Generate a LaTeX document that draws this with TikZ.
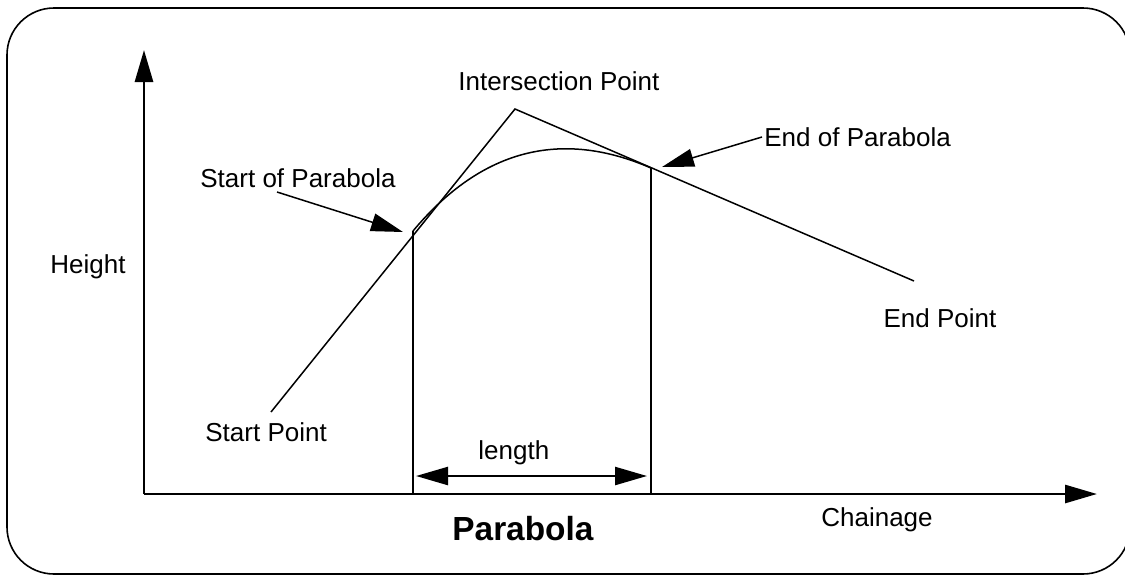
\documentclass[tikz,border=0pt]{standalone}
\usepackage{fontspec}
\setmainfont{Liberation Sans}
\usetikzlibrary{arrows.meta,calc}
\begin{document}
\begin{tikzpicture}[x=0.5pt,y=-0.5pt,
  lbl/.style={inner sep=0pt,font=\fontsize{13pt}{15pt}\selectfont},
  title/.style={inner sep=0pt,font=\fontsize{16.7pt}{19pt}\selectfont\bfseries},
  thin line/.style={line width=0.75pt},
  axis/.style={line width=1.4pt,-{Triangle[length=16pt,width=9pt]}},
  ptr/.style={line width=0.75pt,-{Triangle[length=16pt,width=9pt]}},
  dim/.style={line width=1.2pt,{Triangle[length=16pt,width=9pt]}-{Triangle[length=16pt,width=9pt]}},
  vline/.style={line width=1.25pt}]
\useasboundingbox (0,0) rectangle (1125,574);
\clip (0,0) rectangle (1125,574);
% frame
\draw[line width=0.8pt,rounded corners=23.5pt] (7,8) rectangle (1130,574);
% key points
\coordinate (O) at (144,494);
\coordinate (Ytip) at (144,50);
\coordinate (Xtip) at (1097,494);
\coordinate (S) at (413,231);
\coordinate (E) at (651,168);
\coordinate (I) at (515,109);
\coordinate (SP) at (271,412);
\coordinate (EP) at (914,281);
\coordinate (SB) at (413,494);
\coordinate (EB) at (651,494);
\coordinate (L1) at (416,476);
\coordinate (L2) at (647,476);
\coordinate (Stail) at (277,192);
\coordinate (Stip) at (403,232);
\coordinate (Etail) at (762,137);
\coordinate (Etip) at (662,167);
% axes
\draw[axis] (O) -- (Ytip);
\draw[axis] (O) -- (Xtip);
% tangents
\draw[thin line] (SP) -- (I) -- (EP);
% parabola
\draw[thin line] (S) .. controls ($(S)!2/3!(I)$) and ($(E)!2/3!(I)$) .. (E);
% verticals
\draw[vline] (SB) -- (S);
\draw[vline] (EB) -- (E);
% length
\draw[dim] (L1) -- (L2);
% pointers
\draw[ptr] (Stail) -- (Stip);
\draw[ptr] (Etail) -- (Etip);
% labels
\node[lbl,anchor=base west] (tInt) at (458,90) {Intersection Point};
\node[lbl,anchor=base west] (tEoP) at (764,146) {End of Parabola};
\node[lbl,anchor=base west] (tSoP) at (200,187) {Start of Parabola};
\node[lbl] (tH) at (88,267) {Height};
\node[lbl] (tEP) at (940,318) {End Point};
\node[lbl,anchor=base west] (tSP) at (205,441) {Start Point};
\node[lbl,anchor=base west] (tlen) at (478,459) {length};
\node[title,anchor=base west] (tPar) at (452,540) {Parabola};
\node[lbl] (tCh) at (877,520) {Chainage};
\end{tikzpicture}
\end{document}
